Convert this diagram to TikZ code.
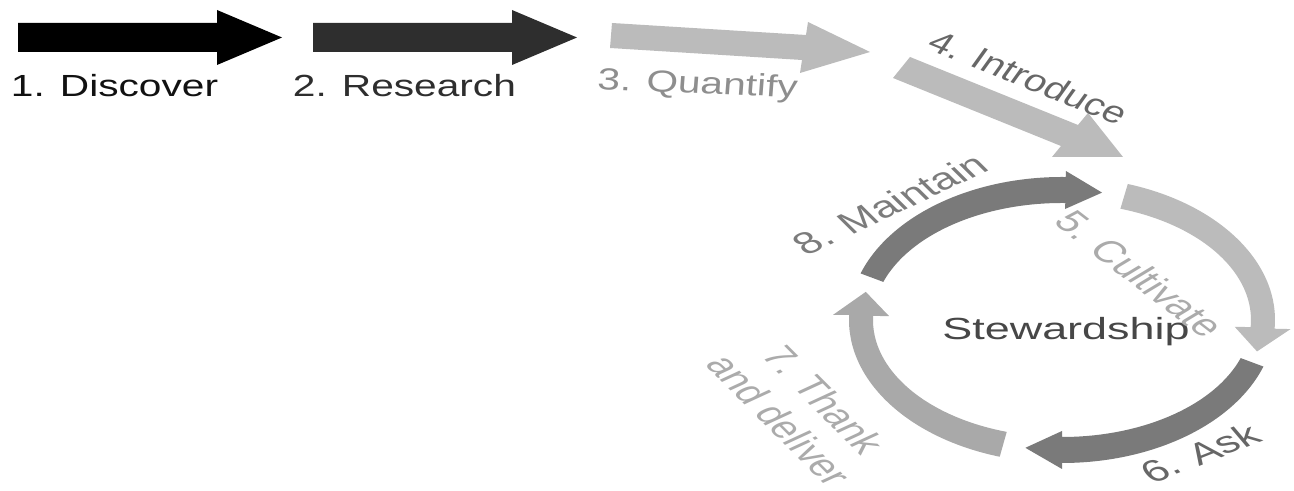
\documentclass[tikz,border=0pt]{standalone}
\usepackage{fontspec}
\setmainfont{Liberation Sans}
\usetikzlibrary{positioning}
\definecolor{Ink}{HTML}{111111}
\definecolor{Coal}{HTML}{2E2E2E}
\definecolor{Dark}{HTML}{474747}
\definecolor{Dim}{HTML}{676767}
\definecolor{Slate}{HTML}{7A7A7A}
\definecolor{Mid}{HTML}{7C7C7C}
\definecolor{Grey}{HTML}{8E8E8E}
\definecolor{Ash}{HTML}{A9A9A9}
\definecolor{Light}{HTML}{ABABAB}
\definecolor{Pale}{HTML}{BBBBBB}

\begin{document}
\begin{tikzpicture}[x=0.1mm,y=-0.1mm,
    stage/.style={font=\fontsize{8.7}{10.4}\selectfont,inner sep=0pt},
    rowtext/.style={stage,xscale=1.33},
    ringtext/.style={stage,xscale=1.47}]
    \useasboundingbox (0,0) rectangle (1294,491);
    % first steps
    \foreach \x/\col in {18/black,313/Coal}{
      \fill[\col] (\x,23) -- ++(199,0) -- ++(0,-13) -- ++(65,27.5) -- ++(-65,27.5)
        -- ++(0,-13) -- ++(-199,0) -- cycle;
    }
    \fill[Pale] (612,23) -- (806,35) -- (808,22) -- (870,52) -- (800,73) -- (802,60) -- (610,48) -- cycle;
    \fill[Pale] (910,57) -- (1078,125) -- (1088,113) -- (1123,157) -- (1052,157) -- (1061,146) -- (893,78) -- cycle;
    \node[rowtext,text=Ink,anchor=base west] (discover) at (10,97) {1. Discover};
    \node[rowtext,text=Coal,anchor=base west] (research) at (292,97) {2. Research};
    \node[rowtext,text=Grey,anchor=base west,rotate=-3.3] (quantify) at (596,89) {3. Quantify};
    \node[rowtext,text=Dim,anchor=base,rotate=-28.3] (introduce) at (1022,87) {4. Introduce};
    % stewardship cycle
    \foreach \st/\en/\col in {199/271/Slate,-72/3.5/Pale,19/90/Slate,107/182/Ash}{
      \fill[\col] ({1062+213*cos(\st)},{320+143*sin(\st)})
        arc[start angle=\st,end angle=\en,x radius=213,y radius=143]
        -- ({1062+229*cos(\en)},{320+149*sin(\en)})
        -- ({1062+201*cos(\en+10.5)},{320+130*sin(\en+10.5)})
        -- ({1062+173*cos(\en)},{320+111*sin(\en)})
        -- ({1062+189*cos(\en)},{320+117*sin(\en)})
        arc[start angle=\en,end angle=\st,x radius=189,y radius=117] -- cycle;
    }
    \node[ringtext,text=Dark,anchor=base] (steward) at (1066,340) {Stewardship};
    \node[ringtext,text=Light,rotate=-48.5] (cultivate) at (1140,274) {5. Cultivate};
    \node[ringtext,text=Dim,rotate=30] (ask) at (1200,453) {6. Ask};
    \node[ringtext,text=Light,rotate=-55.8,align=center] (thank) at (802,410) {7. Thank\\and deliver};
    \node[ringtext,text=Mid,rotate=34.5] (maintain) at (890,204) {8. Maintain};
\end{tikzpicture}
\end{document}
